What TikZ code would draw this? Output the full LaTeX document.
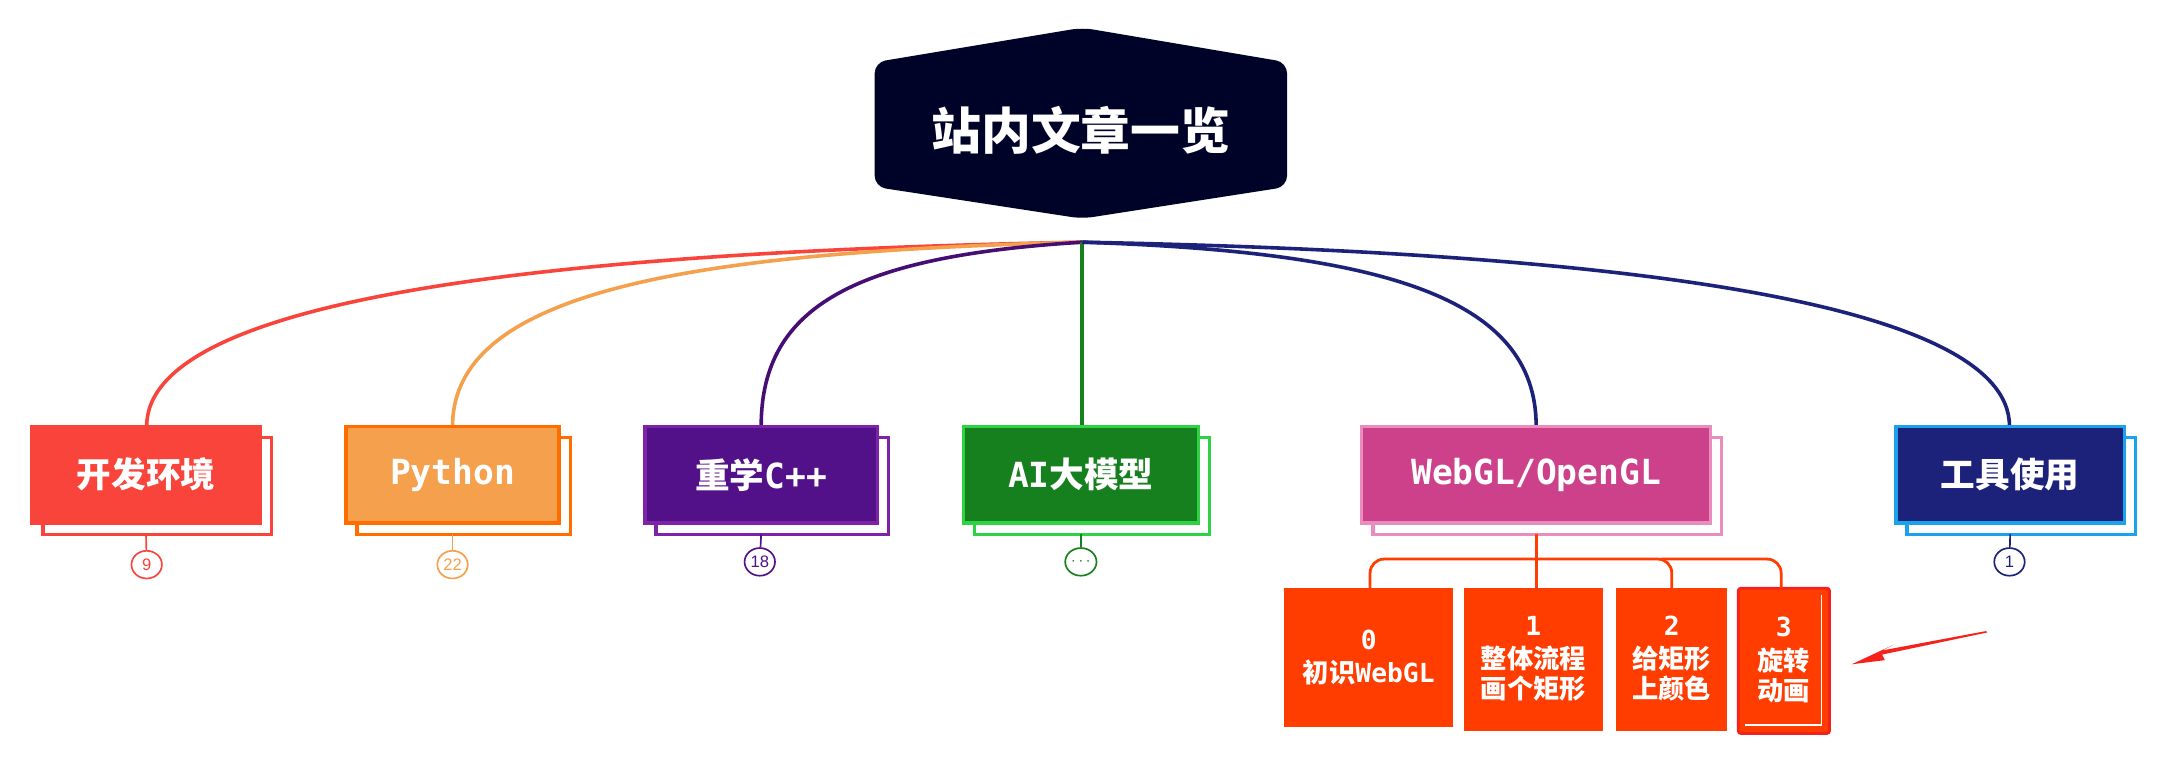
\documentclass[tikz,border=0pt]{standalone}
\usepackage{fontspec}
\setmainfont{Noto Sans CJK SC}
\newfontfamily\lat{DejaVu Sans Mono}
\newfontfamily\numf{Liberation Sans}
\usetikzlibrary{arrows.meta,shapes.geometric}
\definecolor{cRoot}{HTML}{000328}
\definecolor{cRed}{HTML}{F9443B}
\definecolor{cOrF}{HTML}{F5A04C}
\definecolor{cOrB}{HTML}{FF6D00}
\definecolor{cPuF}{HTML}{521089}
\definecolor{cPuB}{HTML}{7E22A8}
\definecolor{cGrF}{HTML}{17801E}
\definecolor{cGrB}{HTML}{2ED343}
\definecolor{cPiF}{HTML}{CD418A}
\definecolor{cPiB}{HTML}{E88DBE}
\definecolor{cNvF}{HTML}{1C227A}
\definecolor{cNvB}{HTML}{1AA3EC}
\definecolor{cSub}{HTML}{FF3D00}
\definecolor{cArr}{HTML}{F5221B}
\tikzset{
 lbl/.style={text=white,font=\fontsize{25}{28}\selectfont\bfseries},
 sublbl/.style={text=white,font=\fontsize{19}{24}\selectfont\bfseries,align=center},
 cnt/.style={draw,ellipse,line width=1.2pt,fill=white,inner sep=1pt,minimum width=22pt,minimum height=20pt,font=\numf\fontsize{12}{12}\selectfont},
 conn/.style={line width=2.6pt},
 subbox/.style={fill=cSub,inner sep=0pt},
}
\newcommand\mmbranch[9]{% name, x1, x2, fill, border, text, count, countcol, edgecol
 \draw[line width=2.4pt,draw=#5,fill=white] (#2+8,316) rectangle (#3+8,386);
 \draw[line width=2.4pt,draw=#5,fill=#4] (#2,308) rectangle (#3,378);
 \node[lbl] (#1) at ({(#2+#3)/2},343) {#6};
 \coordinate (#1top) at ({(#2+#3)/2},308);
 \coordinate (#1bot) at ({(#2+#3)/2},386);
}
\begin{document}
\begin{tikzpicture}[x=1pt,y=-1pt]
\useasboundingbox (0,0) rectangle (1568,564);
% root
\fill[cRoot,rounded corners=8pt] (632,45) -- (782,20) -- (930,45) -- (930,135) -- (782,158) -- (632,135) -- cycle;
\node[text=white,font=\fontsize{36}{40}\selectfont\bfseries] (root) at (781,94) {站内文章一览};
\coordinate (rb) at (782,175);
% connectors
\draw[conn,cRed] (rb) .. controls (400,182) and (106,215) .. (106,308);
\draw[conn,cOrF] (rb) .. controls (500,182) and (327,210) .. (327,308);
\draw[conn,cPuF!85!black] (rb) .. controls (620,185) and (550,220) .. (550,308);
\draw[conn,cGrF] (rb) -- (782,308);
\draw[conn,cNvF] (rb) .. controls (1000,182) and (1110,215) .. (1110,308);
\draw[conn,cNvF] (rb) .. controls (1150,182) and (1452,215) .. (1452,308);
% branches
\mmbranch{b1}{23}{188}{cRed}{cRed}{开发环境}{9}{cRed}{cRed}
\mmbranch{b2}{250}{404}{cOrF}{cOrB}{\lat\bfseries Python}{22}{cOrF}{cOrF}
\mmbranch{b3}{466}{634}{cPuF}{cPuB}{重学{\lat\bfseries C++}}{18}{cPuF}{cPuF}
\mmbranch{b4}{696}{866}{cGrF}{cGrB}{{\lat\bfseries AI}大模型}{}{cGrF}{cGrF}
\mmbranch{b5}{984}{1236}{cPiF}{cPiB}{\lat\bfseries WebGL/OpenGL}{}{}{}
\mmbranch{b6}{1370}{1535}{cNvF}{cNvB}{工具使用}{1}{cNvF}{cNvF}
% count bubbles
\node[cnt,draw=cRed,text=cRed] (n1) at (106,408) {9};
\node[cnt,draw=cOrF,text=cOrF] (n2) at (327,408) {22};
\node[cnt,draw=cPuF,text=cPuF] (n3) at (549,406) {18};
\node[cnt,draw=cGrF,text=cGrF] (n4) at (781,406) {$\cdots$};
\node[cnt,draw=cNvF,text=cNvF] (n6) at (1452,406) {1};
\draw[line width=1.2pt,cRed] (b1bot) -- (n1);
\draw[line width=1.2pt,cOrF] (b2bot) -- (n2);
\draw[line width=1.2pt,cPuF] (b3bot) -- (n3);
\draw[line width=1.2pt,cGrF] (b4bot) -- (n4);
\draw[line width=1.2pt,cNvF] (b6bot) -- (n6);
% sub nodes
\fill[subbox] (928,425) rectangle (1050,525);
\node[sublbl] (s0) at (989,475) {{\lat\bfseries 0}\\初识{\lat\bfseries WebGL}};
\fill[subbox] (1058,425) rectangle (1158,528);
\node[sublbl] (s1) at (1108,476) {{\lat\bfseries 1}\\整体流程\\[-2pt]画个矩形};
\fill[subbox] (1168,425) rectangle (1248,528);
\node[sublbl] (s2) at (1208,476) {{\lat\bfseries 2}\\给矩形\\[-2pt]上颜色};
\draw[line width=2pt,draw=cArr,fill=cSub,rounded corners=2pt] (1256,425) rectangle (1322,530);
\draw[line width=1pt,white] (1316,430) -- (1316,524) -- (1261,524);
\node[sublbl] (s3) at (1289,477) {{\lat\bfseries 3}\\旋转\\[-2pt]动画};
\coordinate (s0t) at (990,425);
\coordinate (s2t) at (1208,425);
\coordinate (s3t) at (1287,425);
\draw[line width=2pt,cSub] (b5bot) -- (1110,425);
\draw[line width=2pt,cSub,rounded corners=10pt] (s0t) -- (990,404) -- (1208,404) -- (s2t);
\draw[line width=2pt,cSub,rounded corners=10pt] (1200,404) -- (1287,404) -- (s3t);
% red arrow
\coordinate (a0) at (1435,456);
\coordinate (a1) at (1338,480);
\fill[cArr] (a0) -- (1360,470) -- (1368,466) -- (1338,480) -- (1362,477) -- (1360,473) -- (1436,457) -- cycle;
\end{tikzpicture}
\end{document}
